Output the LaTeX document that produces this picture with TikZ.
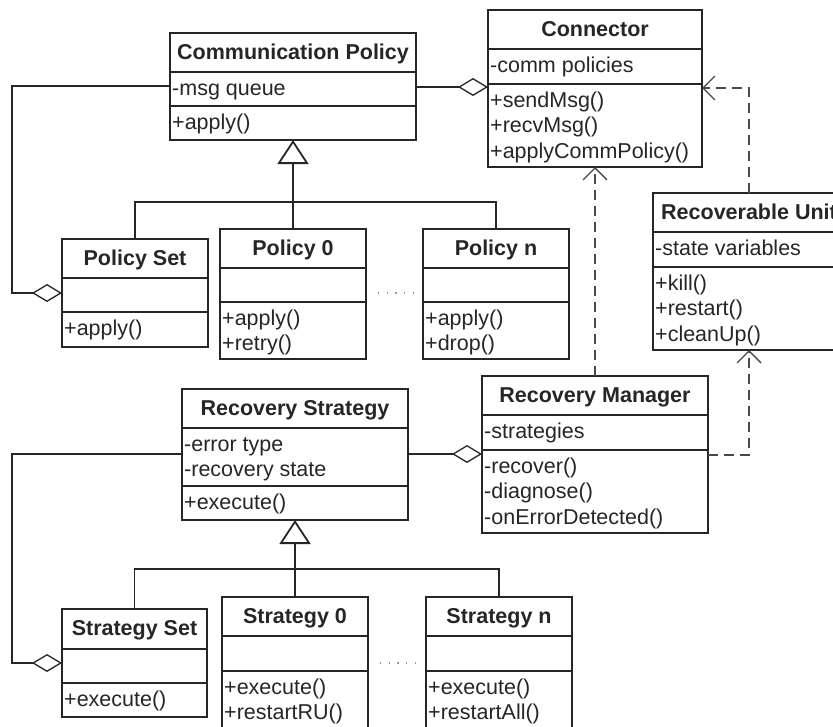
\documentclass[tikz,border=0pt]{standalone}
\usepackage{fontspec}
\setmainfont{Liberation Sans}
\usetikzlibrary{arrows.meta}
\definecolor{ink}{HTML}{262626}
\definecolor{dashink}{HTML}{4A4A4A}
\newcommand\umltitlefont{\fontsize{21.5}{25.5}\selectfont\bfseries}
\newcommand\umlbodyfont{\fontsize{21.5}{25.5}\selectfont}
\def\umlgeo#1/#2/#3/#4/#5/#6\relax{\def\ux{#1}\def\uy{#2}\def\uX{#3}\def\uY{#4}\def\uda{#5}\def\udb{#6}}
\tikzset{
  classframe/.style={draw=ink, line width=1.3pt, inner sep=0pt, outer sep=0pt, anchor=north west},
  divider/.style={draw=ink, line width=1.3pt},
  titletext/.style={font=\umltitlefont, text=ink, anchor=base, inner sep=0pt},
  bodytext/.style={font=\umlbodyfont, text=ink, anchor=north west, inner sep=0pt, align=left},
  assoc/.style={draw=ink, line width=1.3pt},
  aggr/.style={assoc, -{Diamond[open, length=30pt, width=18pt]}},
  depend/.style={draw=dashink, line width=1.3pt, dash pattern=on 10pt off 6pt, -{Straight Barb[length=12pt, width=24pt]}},
  inherit/.style={draw=ink, line width=1.8pt, -{Triangle[open, length=24pt, width=31pt]}},
  dots/.style={draw=black!40, line width=1.3pt, dash pattern=on 1.3pt off 7.4pt},
}
\newcommand\umlclass[5]{%
  \umlgeo#2\relax
  \node[classframe, minimum width={(\uX-\ux)*1pt}, minimum height={(\uY-\uy)*1pt}] (#1) at (\ux,\uy) {};
  \draw[divider] (\ux,\uda) -- (\uX,\uda) (\ux,\udb) -- (\uX,\udb);
  \node[titletext] (#1-t) at ({(\ux+\uX)/2},{\uy+26.5}) {#3};
  \node[bodytext] (#1-a) at ({\ux+2},{\uda+5}) {#4};
  \node[bodytext] (#1-m) at ({\ux+2},{\udb+5}) {#5};
}
\begin{document}
\begin{tikzpicture}[x=1pt,y=-1pt]
\useasboundingbox (0,0) rectangle (833,726);
\fill[white] (0,0) rectangle (833,726);
\clip (0,0) rectangle (833,726);
% classes
\umlclass{cp}{170/33/416/140/72/106}{Communication Policy}{\strut-msg queue}{\strut+apply()}
\umlclass{con}{488/10/702/167/49/84}{Connector}{\strut-comm policies}{\strut+sendMsg()\\+recvMsg()\\+applyCommPolicy()}
\umlclass{pset}{62/239/208/347/278/312}{Policy Set}{}{\strut+apply()}
\umlclass{p0}{220/229/366/359/268/302}{Policy 0}{}{\strut+apply()\\+retry()}
\umlclass{pn}{423/229/569/359/268/302}{Policy n}{}{\strut+apply()\\+drop()}
\umlclass{ru}{653/193/845/350/232/267}{Recoverable Unit}{\strut-state variables}{\strut+kill()\\+restart()\\+cleanUp()}
\umlclass{rm}{482/376/708/533/415/450}{Recovery Manager}{\strut-strategies}{\strut-recover()\\-diagnose()\\-onErrorDetected()}
\umlclass{rs}{182/389/408/520/428/486}{Recovery Strategy}{\strut-error type\\-recovery state}{\strut+execute()}
\umlclass{sset}{62/609/207/717/649/683}{Strategy Set}{}{\strut+execute()}
\umlclass{s0}{222/597/368/740/636/671}{Strategy 0}{}{\strut+execute()\\+restartRU()}
\umlclass{sn}{426/597/572/740/636/671}{Strategy n}{}{\strut+execute()\\+restartAll()}
% helper coordinates
\coordinate (xL) at (12,0);
\coordinate (yA) at (0,87);
\coordinate (yB) at (0,86);
\coordinate (yC) at (0,293);
\coordinate (yD) at (0,88);
\coordinate (yE) at (0,455);
\coordinate (yF) at (0,454);
\coordinate (yG) at (0,663);
\coordinate (bus1) at (0,202);
\coordinate (bus2) at (0,569);
% communication part
\draw[aggr] (cp.east |- yA) -- (con.west |- yA);
\draw[aggr] (cp.west |- yB) -- (xL |- yB) -- (xL |- yC) -- (pset.west |- yC);
\draw[assoc] (pset.north) -- (pset.north |- bus1) -- (pn.north |- bus1) -- (pn.north);
\draw[inherit] (p0.north) -- (cp.south);
% dependencies
\draw[depend] (rm.north) -- (con.south);
\draw[depend] (ru.north) -- (ru.north |- yD) -- (con.east |- yD);
\draw[depend] (rm.east |- yE) -- (ru.south |- yE) -- (ru.south);
% recovery part
\draw[aggr] (rs.east |- yF) -- (rm.west |- yF);
\draw[aggr] (rs.west |- yF) -- (xL |- yF) -- (xL |- yG) -- (sset.west |- yG);
\draw[assoc] (sset.north) -- (sset.north |- bus2) -- (sn.north |- bus2) -- (sn.north);
\draw[inherit] (s0.north) -- (rs.south);
% ellipsis dots
\coordinate (d1a) at (378,293); \coordinate (d1b) at (417,293);
\coordinate (d2a) at (380,663); \coordinate (d2b) at (419,663);
\draw[dots] (d1a) -- (d1b);
\draw[dots] (d2a) -- (d2b);
\end{tikzpicture}
\end{document}
